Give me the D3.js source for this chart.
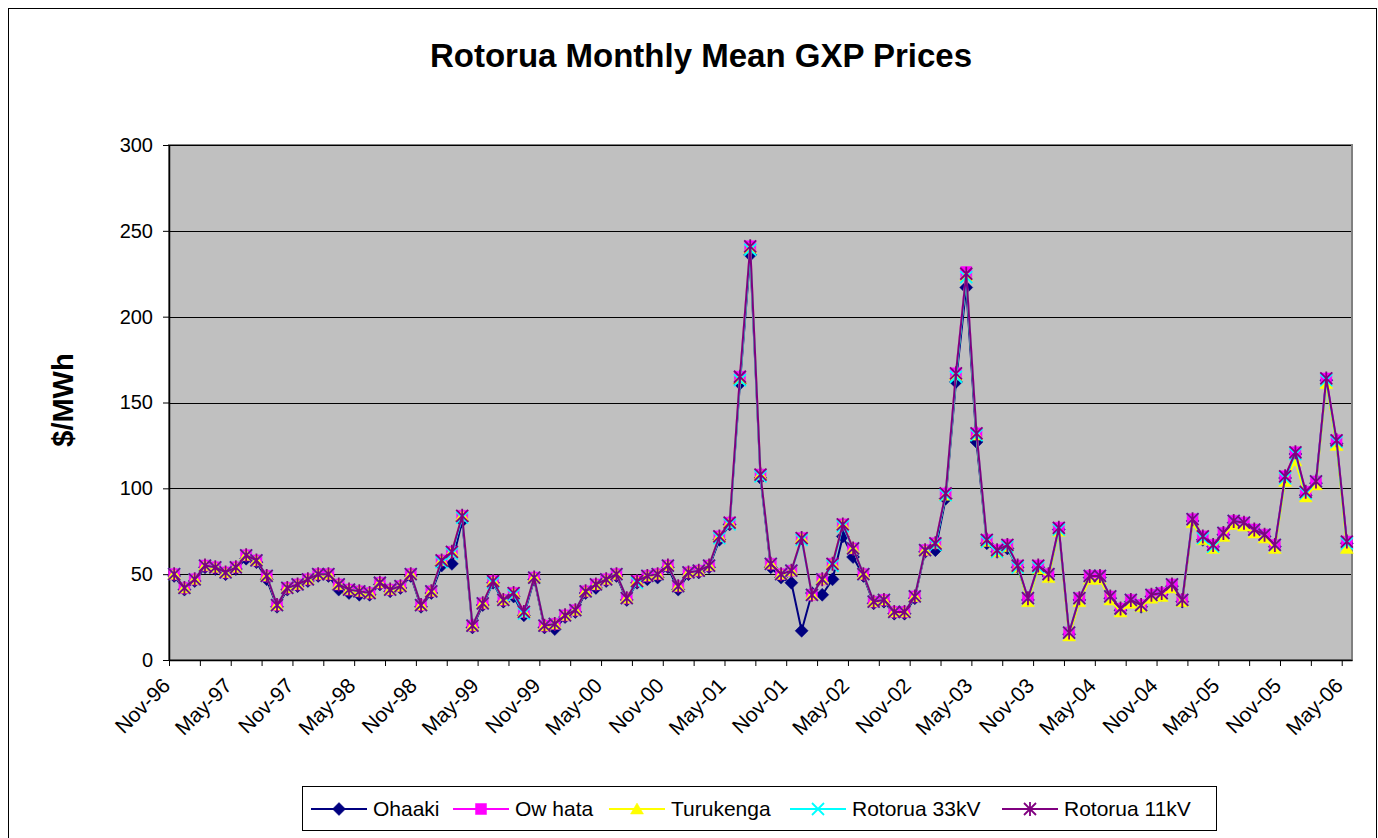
<!DOCTYPE html>
<html>
<head>
<meta charset="utf-8">
<script src="https://cdn.jsdelivr.net/npm/d3@7"></script>
<style>
  body { margin: 0; background: #fff; }
  text { font-family: "Liberation Sans", Arial, sans-serif; }
</style>
</head>
<body>
<script>
// monthly means, Nov-96 .. May-06 (115 months)
var tickLabels = ["Nov-96","May-97","Nov-97","May-98","Nov-98","May-99","Nov-99","May-00","Nov-00","May-01",
                  "Nov-01","May-02","Nov-02","May-03","Nov-03","May-04","Nov-04","May-05","Nov-05","May-06"];
var yTicks = [0, 50, 100, 150, 200, 250, 300];

var ohaaki = [49,41,46,54,53,50,53,59,57,47,
  31,41,43,46,49,49,41,39,38,38,
  44,40,42,49,31,39,55,56,81,19,
  32,45,34,37,26,47,19,18,25,28,
  39,42,46,49,35,45,47,48,54,41,
  50,51,54,70,79,161,236,106,54,48,
  45,17,39,38,47,72,60,49,33,34,
  27,27,36,63,64,94,162,217,127,68,
  63,65,54,35,54,49,76,15,35,48,
  48,36,29,34,31,37,38,43,34,81,
  70,66,73,80,79,75,72,66,106,120,
  96,103,163,126,68];

var owhata = [50,42,47,55,54,51,54,61,58,49,
  32,42,44,47,50,50,44,41,40,39,
  45,41,43,50,32,40,58,63,84,20,
  33,46,35,39,28,48,20,21,26,29,
  40,44,47,50,36,46,49,50,55,43,
  51,52,55,72,80,165,241,108,56,50,
  52,71,38,47,56,79,65,50,34,35,
  28,28,37,64,68,97,167,226,132,70,
  64,67,55,36,55,50,77,16,36,49,
  49,37,30,35,32,38,39,44,35,82,
  72,67,74,81,80,76,73,67,107,121,
  98,104,164,128,69];

var turukenga = [50,42,47,55,54,51,54,61,58,49,
  32,42,44,47,50,50,44,41,40,39,
  45,41,43,50,32,40,58,63,84,20,
  33,46,35,39,28,48,20,21,26,29,
  40,44,47,50,36,46,49,50,55,43,
  51,52,55,72,80,164,240,108,56,50,
  52,71,38,47,56,79,65,50,34,35,
  28,28,37,64,68,96,166,224,131,69,
  63,66,54,34,53,48,75,14,34,47,
  47,35,28,33,31,36,37,42,34,80,
  70,65,72,79,78,74,71,65,104,116,
  95,102,161,125,65];

var rotorua33 = [50,42,47,55,54,51,54,61,58,49,
  32,42,44,47,50,50,44,41,40,39,
  45,41,43,50,32,40,57,62,83,20,
  33,45,35,38,27,48,20,21,26,29,
  40,44,47,50,36,45,49,50,55,43,
  51,52,55,71,79,163,239,107,56,50,
  52,70,38,47,55,78,65,50,34,35,
  28,28,37,64,67,96,165,223,131,69,
  63,66,54,36,54,50,76,16,36,49,
  49,37,30,35,32,38,39,44,35,82,
  71,66,74,81,80,76,73,67,106,120,
  97,104,163,127,68];

var rotorua11 = [50,42,47,55,54,51,54,61,58,49,
  32,42,44,47,50,50,44,41,40,39,
  45,41,43,50,32,40,58,63,84,20,
  33,46,35,39,28,48,20,21,26,29,
  40,44,47,50,36,46,49,50,55,43,
  51,52,55,72,80,165,241,108,56,50,
  52,71,38,47,56,79,65,50,34,35,
  28,28,37,64,68,97,167,225,132,70,
  64,67,55,36,55,50,77,16,36,49,
  49,37,30,35,32,38,39,44,35,82,
  72,67,74,81,80,76,73,67,107,121,
  98,104,164,128,69];

var seriesNames = ["Ohaaki", "Ow hata", "Turukenga", "Rotorua 33kV", "Rotorua 11kV"];
var seriesColors = ["#000080", "#FF00FF", "#FFFF00", "#00FFFF", "#800080"];
var seriesData = [ohaaki, owhata, turukenga, rotorua33, rotorua11];

var W = 1378, H = 838;
var plot = {left: 169, right: 1352, top: 145, bottom: 660};
var nMonths = rotorua11.length;

var svg = d3.select("body").append("svg").attr("width", W).attr("height", H);

// outer chart border
svg.append("rect").attr("x", 8.5).attr("y", 8.5).attr("width", 1368).attr("height", 840)
  .attr("fill", "#fff").attr("stroke", "#000").attr("stroke-width", 1);

svg.append("text").attr("x", 701).attr("y", 67).attr("text-anchor", "middle")
  .attr("font-size", 33).attr("font-weight", "bold").text("Rotorua Monthly Mean GXP Prices");

var x = d3.scaleLinear().domain([0, nMonths]).range([plot.left, plot.right]);
var y = d3.scaleLinear().domain([0, 300]).range([plot.bottom, plot.top]);

// plot area
svg.append("rect").attr("x", plot.left).attr("y", plot.top)
  .attr("width", plot.right - plot.left).attr("height", plot.bottom - plot.top)
  .attr("fill", "#C0C0C0").attr("stroke", "#808080").attr("stroke-width", 2);

// gridlines
svg.append("g").selectAll("line").data(yTicks.filter(function(d){ return d > 0; }))
  .enter().append("line")
  .attr("x1", plot.left).attr("x2", plot.right - 1)
  .attr("y1", function(d){ return Math.round(y(d)) + 0.5; })
  .attr("y2", function(d){ return Math.round(y(d)) + 0.5; })
  .attr("stroke", "#000").attr("stroke-width", 1);

// y axis
var yAxis = svg.append("g").attr("transform", "translate(" + plot.left + ",0)")
  .call(d3.axisLeft(y).tickValues(yTicks).tickSize(6).tickPadding(10).tickSizeOuter(0));
yAxis.select(".domain").attr("stroke", "#000").attr("stroke-width", 1.5);
yAxis.selectAll("text").attr("font-size", 20).attr("fill", "#000")
  .style("font-family", "'Liberation Sans', Arial, sans-serif");

svg.append("text").attr("transform", "translate(73,400) rotate(-90)")
  .attr("text-anchor", "middle").attr("font-size", 29).attr("font-weight", "bold").text("$/MWh");

// x axis: ticks every 3 months, labels every 6
var xTickVals = d3.range(0, nMonths, 3);
var xAxis = svg.append("g").attr("transform", "translate(0," + plot.bottom + ")")
  .call(d3.axisBottom(x).tickValues(xTickVals).tickSize(6).tickSizeOuter(0)
    .tickFormat(function(d){ return d % 6 === 0 ? tickLabels[d / 6] : ""; }));
xAxis.select(".domain").attr("stroke", "#000").attr("stroke-width", 1.5);
xAxis.selectAll("text").attr("font-size", 21).attr("fill", "#000")
  .style("font-family", "'Liberation Sans', Arial, sans-serif")
  .attr("text-anchor", "end").attr("dy", 0).attr("y", 0)
  .attr("transform", "translate(2,27) rotate(-45)");

// markers
function markerPath(k) {
  if (k === 0) return "M0,-6.5L6.5,0L0,6.5L-6.5,0Z";
  if (k === 1) return "M-5.5,-5.5H5.5V5.5H-5.5Z";
  if (k === 2) return "M0,-6L6.5,5H-6.5Z";
  if (k === 3) return "M-6,-6L6,6M6,-6L-6,6";
  return "M-6,-6L6,6M6,-6L-6,6M0,-7V7";
}

var line = d3.line()
  .x(function(d, i){ return x(i + 0.5); })
  .y(function(d){ return y(d); });

seriesData.forEach(function(vals, k) {
  var g = svg.append("g");
  g.append("path").datum(vals).attr("d", line)
    .attr("fill", "none").attr("stroke", seriesColors[k]).attr("stroke-width", 2);
  var filled = k < 3;
  g.selectAll("path.m").data(vals).enter().append("path").attr("class", "m")
    .attr("transform", function(d, i){ return "translate(" + x(i + 0.5) + "," + y(d) + ")"; })
    .attr("d", markerPath(k))
    .attr("fill", filled ? seriesColors[k] : "none")
    .attr("stroke", seriesColors[k]).attr("stroke-width", filled ? 0.5 : 1.8);
});

// legend
var legend = svg.append("g");
legend.append("rect").attr("x", 302.5).attr("y", 786.5).attr("width", 914).attr("height", 44)
  .attr("fill", "#fff").attr("stroke", "#000").attr("stroke-width", 1);
var legX = [311, 453, 609, 790, 1002];
seriesNames.forEach(function(name, k) {
  var lx = legX[k], ly = 809;
  legend.append("line").attr("x1", lx).attr("x2", lx + 56).attr("y1", ly).attr("y2", ly)
    .attr("stroke", seriesColors[k]).attr("stroke-width", 2);
  var filled = k < 3;
  legend.append("path").attr("transform", "translate(" + (lx + 28) + "," + ly + ")")
    .attr("d", markerPath(k))
    .attr("fill", filled ? seriesColors[k] : "none")
    .attr("stroke", seriesColors[k]).attr("stroke-width", filled ? 0.5 : 1.8);
  legend.append("text").attr("x", lx + 62).attr("y", ly + 7).attr("font-size", 21).text(name);
});
</script>
</body>
</html>
